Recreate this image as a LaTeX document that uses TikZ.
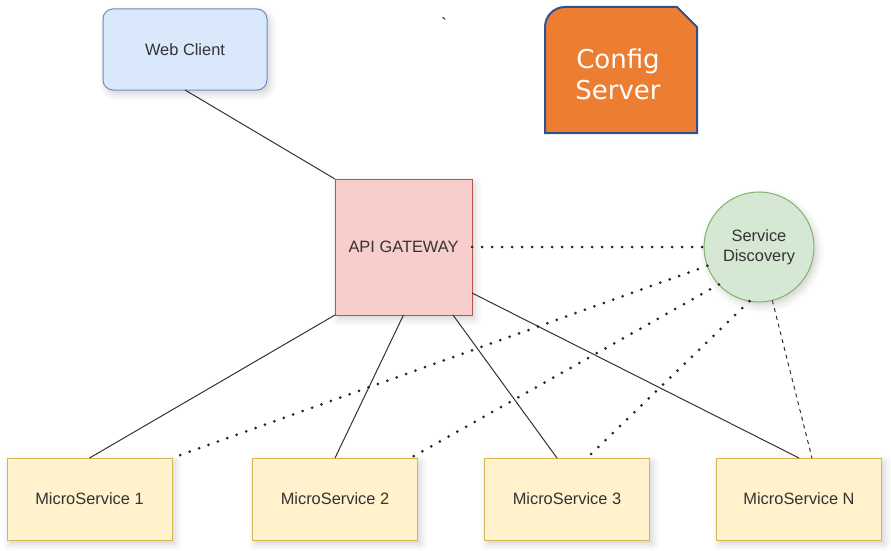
\documentclass[tikz,border=0pt]{standalone}
\usepackage{fontspec}
\setmainfont{Liberation Sans}
\newfontfamily\cfgfont{DejaVu Sans}
\newfontfamily\tickfont[Ligatures=TeXOff]{Liberation Sans}
\usepackage{tikz}
\usetikzlibrary{shapes,shadows.blur}
\definecolor{webfill}{HTML}{DAE8FC}
\definecolor{webline}{HTML}{6C8EBF}
\definecolor{gwfill}{HTML}{F8CECC}
\definecolor{gwline}{HTML}{B85450}
\definecolor{sdfill}{HTML}{D5E8D4}
\definecolor{sdline}{HTML}{82B366}
\definecolor{msfill}{HTML}{FFF2CC}
\definecolor{msline}{HTML}{D6B656}
\definecolor{cfgfill}{HTML}{ED7D31}
\definecolor{cfgline}{HTML}{2F528F}
\tikzstyle{shade}=[blur shadow={shadow xshift=3pt,shadow yshift=-4pt,shadow blur radius=7pt,shadow opacity=18}]
\tikzstyle{box}=[rectangle,draw,shade,inner sep=0pt,outer sep=0pt,line width=1pt,text=black!80,font=\fontsize{16.4}{20}\selectfont]
\tikzstyle{msbox}=[box,fill=msfill,draw=msline,minimum width=165pt,minimum height=82pt]
\tikzstyle{edge} = [draw,line width=1pt,black!80]
\tikzstyle{dots} = [draw,line width=3pt,line cap=round,dash pattern=on 0pt off 10pt,black!85]
\tikzstyle{dashes} = [draw,line width=1pt,dash pattern=on 4pt off 4pt,black!80]

\begin{document}
\begin{tikzpicture}[x=1pt,y=-1pt]
    \useasboundingbox (0,0) rectangle (891,551);

    \node[box, rounded corners=10pt, fill=webfill, draw=webline, minimum width=164pt, minimum height=81pt] (web) at (185,49.5) {Web Client};
    \node[box, fill=gwfill, draw=gwline, minimum width=137pt, minimum height=136pt] (api) at (403.5,247) {API GATEWAY};
    \node[box, circle, fill=sdfill, draw=sdline, minimum size=110pt, align=center] (sd) at (759,247) {Service\\Discovery};

    \foreach \x/\name/\num in {89.5/ms1/1, 335/ms2/2, 567/ms3/3, 799/msN/N}
        \node[msbox] (\name) at (\x,499) {MicroService \num};

    % config server
    \path[draw=cfgline, line width=2pt, fill=cfgfill] (545,133) -- (545,27) .. controls (545,16) and (554,7) .. (565,7) -- (677,7) -- (697,27) -- (697,133) -- cycle;
    \node[text=white, font=\cfgfont\fontsize{26}{31}\selectfont, align=center] (cfg) at (618,74) {Config\\Server};
    \node[font=\tickfont\fontsize{16}{18}\selectfont] (tick) at (444,24) {`};

    \path[edge] (web.south) -- (api.north west);
    \path[edge] (api.south west) -- (ms1.north);
    \path[edge] (api.south) -- (ms2.north);
    \path[edge] ([xshift=49.5pt]api.south) -- ([xshift=-10pt]ms3.north);
    \path[edge] ([yshift=-46pt]api.east) -- (msN.north);

    \path[dots] (api.east) -- (sd.west);
    \path[dots] (sd.200) -- (ms1.north east);
    \path[dots] (sd.223) -- ([xshift=-7pt]ms2.north east);
    \path[dots] (sd.260) -- ([xshift=20pt]ms3.north);
    \path[dashes] (sd.284) -- ([xshift=13pt]msN.north);
\end{tikzpicture}
\end{document}
